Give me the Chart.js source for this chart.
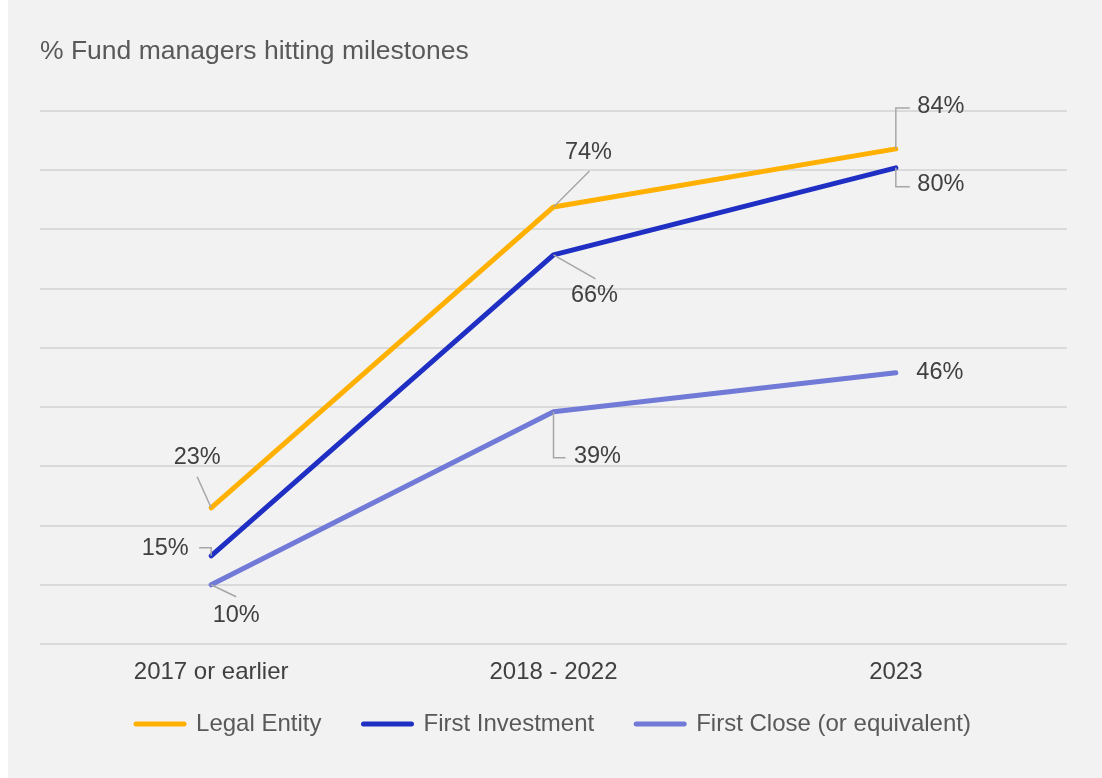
<!DOCTYPE html>
<html>
<head>
<meta charset="utf-8">
<title>% Fund managers hitting milestones</title>
<script src="https://cdn.jsdelivr.net/npm/chart.js@4.4.1/dist/chart.umd.min.js"></script>
<style>
    html, body { margin: 0; padding: 0; background: #ffffff; }
    #wrap { width: 1102px; height: 778px; }
</style>
</head>
<body>
<div id="wrap"><canvas id="milestones-chart" width="1102" height="778"></canvas></div>
<script>
// Chart data
const categories = ['2017 or earlier', '2018 - 2022', '2023'];
const seriesNames = ['Legal Entity', 'First Investment', 'First Close (or equivalent)'];
const legalEntity = [23, 73.8, 83.6];
const firstInvestment = [14.9, 65.7, 80.4];
const firstClose = [10, 39.2, 45.8];
const yMin = 0;
const yMax = 90;
const yStep = 10;

const seriesColors = ['#FFB000', '#1F2FC4', '#717AD6'];
const FONT = '"Liberation Sans", Arial, sans-serif';

// where each value label sits relative to its point, plus its leader line
const labelLayout = [
    [
        { dx: -14, dy: -50, leader: [[-14, -31]] },
        { dx: 35, dy: -54, leader: [[36, -36]] },
        { dx: 45, dy: -42, leader: [[0, -41], [14, -41]] }
    ],
    [
        { dx: -46, dy: -7, leader: [[0, -8], [-12, -8]] },
        { dx: 41, dy: 41, leader: [[42, 24]] },
        { dx: 45, dy: 17, leader: [[0, 19], [14, 19]] }
    ],
    [
        { dx: 25, dy: 31, leader: [[25, 12]] },
        { dx: 44, dy: 45, leader: [[0, 46], [12, 46]] },
        { dx: 44, dy: 0, leader: [] }
    ]
];

// grey panel behind the chart
const panelBackground = {
    id: 'panelBackground',
    beforeDraw(chart) {
        const ctx = chart.ctx;
        ctx.save();
        ctx.fillStyle = '#f2f2f2';
        ctx.fillRect(8, 0, chart.width - 8, chart.height);
        ctx.restore();
    }
};

// x axis is squeezed so the legend sits close; give its labels room to draw again
const axisLabelRoom = {
    id: 'axisLabelRoom',
    afterLayout(chart) {
        const x = chart.scales.x;
        x.bottom = x.top + 50;
    }
};

// value labels with grey leader lines
const valueLabels = {
    id: 'valueLabels',
    afterDatasetsDraw(chart) {
        const ctx = chart.ctx;
        chart.data.datasets.forEach((ds, i) => {
            const meta = chart.getDatasetMeta(i);
            meta.data.forEach((pt, j) => {
                const place = labelLayout[i][j];
                ctx.save();
                if (place.leader.length) {
                    ctx.beginPath();
                    ctx.moveTo(pt.x, pt.y);
                    place.leader.forEach(([lx, ly]) => ctx.lineTo(pt.x + lx, pt.y + ly));
                    ctx.strokeStyle = '#a6a6a6';
                    ctx.lineWidth = 1.5;
                    ctx.stroke();
                }
                ctx.font = '23.5px ' + FONT;
                ctx.fillStyle = '#404040';
                ctx.textAlign = 'center';
                ctx.textBaseline = 'middle';
                ctx.fillText(Math.round(ds.data[j]) + '%', pt.x + place.dx, pt.y + place.dy);
                ctx.restore();
            });
        });
    }
};

function makeDataset(label, data, color) {
    return {
        label: label,
        data: data,
        borderColor: color,
        backgroundColor: color,
        borderWidth: 5,
        borderCapStyle: 'round',
        borderJoinStyle: 'round',
        pointRadius: 0,
        pointHoverRadius: 0,
        fill: false,
        tension: 0
    };
}

const ctx = document.getElementById('milestones-chart').getContext('2d');
const milestonesChart = new Chart(ctx, {
    type: 'line',
    data: {
        labels: categories,
        datasets: [
            makeDataset(seriesNames[0], legalEntity, seriesColors[0]),
            makeDataset(seriesNames[1], firstInvestment, seriesColors[1]),
            makeDataset(seriesNames[2], firstClose, seriesColors[2])
        ]
    },
    options: {
        responsive: false,
        animation: false,
        layout: { padding: { left: 40, right: 35, top: 0, bottom: 32 } },
        plugins: {
            title: {
                display: true,
                text: '% Fund managers hitting milestones',
                align: 'start',
                color: '#595959',
                font: { family: FONT, size: 26.5, weight: 'normal', lineHeight: 1.2 },
                padding: { top: 35.5, bottom: 43.7 }
            },
            legend: {
                display: true,
                position: 'bottom',
                labels: {
                    usePointStyle: true,
                    pointStyle: 'line',
                    pointStyleWidth: 48,
                    padding: 42,
                    color: '#595959',
                    font: { family: FONT, size: 24 },
                    generateLabels(chart) {
                        return chart.data.datasets.map((ds, i) => ({
                            text: ds.label,
                            strokeStyle: ds.borderColor,
                            fillStyle: ds.borderColor,
                            lineWidth: 5,
                            lineCap: 'round',
                            pointStyle: 'line',
                            fontColor: '#595959',
                            hidden: !chart.isDatasetVisible(i),
                            datasetIndex: i
                        }));
                    }
                }
            },
            tooltip: { enabled: false }
        },
        scales: {
            x: {
                offset: true,
                grid: { display: false, drawTicks: false },
                border: { display: false },
                ticks: {
                    color: '#404040',
                    padding: 14,
                    font: { family: FONT, size: 24 }
                },
                afterFit(scale) {
                    scale.height = 26;
                }
            },
            y: {
                min: yMin,
                max: yMax,
                grid: { color: '#dadada', lineWidth: 2, drawTicks: false },
                border: { display: false },
                ticks: { display: false, stepSize: yStep }
            }
        }
    },
    plugins: [panelBackground, axisLabelRoom, valueLabels]
});
</script>
</body>
</html>
